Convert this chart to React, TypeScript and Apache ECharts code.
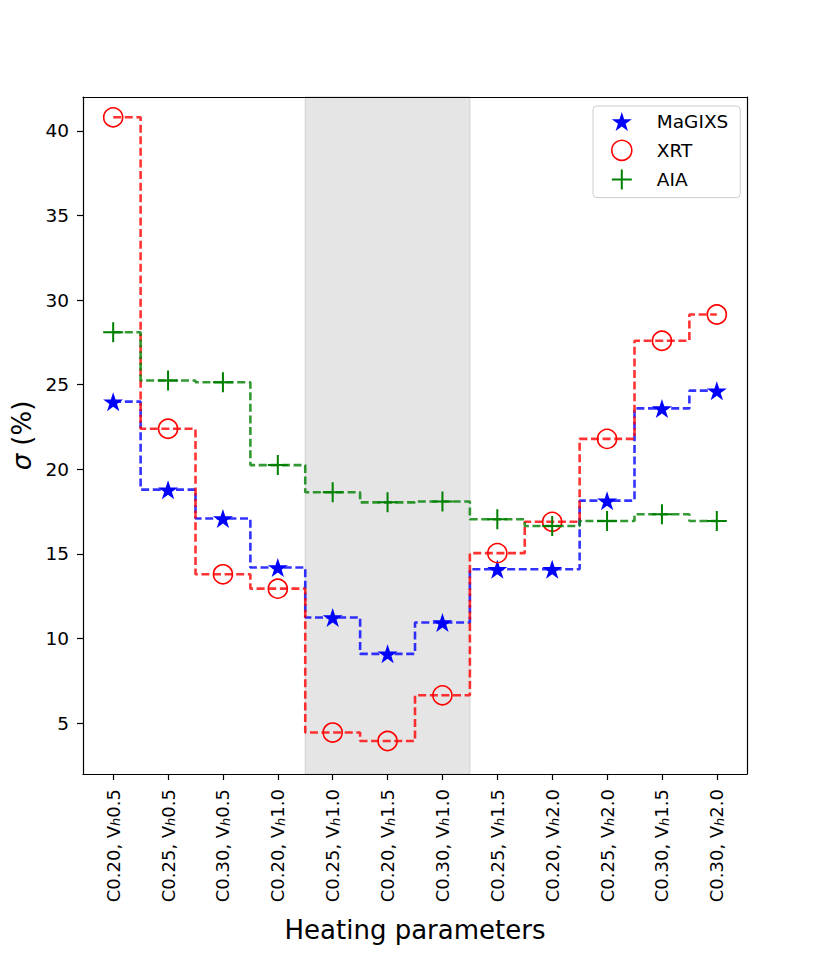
import React, { useEffect, useRef } from "react";
import * as echarts from "echarts";

// ---- data ----
const cParams = ["0.20", "0.25", "0.30", "0.20", "0.25", "0.20", "0.30", "0.25", "0.20", "0.25", "0.30", "0.30"];
const vParams = ["0.5", "0.5", "0.5", "1.0", "1.0", "1.5", "1.0", "1.5", "2.0", "2.0", "1.5", "2.0"];
const magixs = [24.0, 18.8, 17.1, 14.2, 11.25, 9.1, 10.95, 14.1, 14.1, 18.15, 23.6, 24.65];
const xrt = [40.8, 22.4, 13.8, 12.95, 4.45, 3.95, 6.65, 15.05, 16.9, 21.8, 27.6, 29.15];
const aia = [28.1, 25.25, 25.15, 20.25, 18.65, 18.05, 18.1, 17.05, 16.65, 16.95, 17.35, 16.95];
const yTicks = [5, 10, 15, 20, 25, 30, 35, 40];
const shadedRange = [3.5, 6.5];
const seriesNames = ["MaGIXS", "XRT", "AIA"];

const FONT = "DejaVu Sans";
const starPath =
  "path://M0,-100L22.45,-30.9L95.1,-30.9L36.33,11.8L58.8,80.9L0,38.2L-58.8,80.9L-36.33,11.8L-95.1,-30.9L-22.45,-30.9Z";
const plusPath = "path://M-5,-50H5V-5H50V5H5V50H-5V5H-50V-5H-5Z";

const xTicks = cParams.map((_, i) => i);
const toPairs = (arr: number[]) => arr.map((v, i) => [i, v]);

export default function App() {
  const ref = useRef<HTMLDivElement>(null);

  useEffect(() => {
    if (!ref.current) return;
    const chart = echarts.init(ref.current, null, { renderer: "svg" });
    const axisLineStyle = { color: "#000", width: 1.2 };
    const lineDash = [8, 3.6];
    const lineWidth = 2.6;

    const option: any = {
      animation: false,
      backgroundColor: "#fff",
      grid: { left: 83, top: 97, width: 664, height: 677, show: false },
      legend: {
        orient: "vertical",
        left: 593,
        top: 106,
        itemWidth: 20,
        itemHeight: 20,
        itemGap: 8.5,
        padding: [6, 12, 8, 18],
        borderColor: "#cccccc",
        borderWidth: 1,
        borderRadius: 4,
        backgroundColor: "rgba(255,255,255,0.8)",
        selectedMode: false,
        textStyle: { fontSize: 18.5, fontFamily: FONT, color: "#000", padding: [0, 0, 0, 20] },
        data: [
          { name: seriesNames[0], icon: starPath, itemStyle: { color: "#0000ff", borderWidth: 0 } },
          {
            name: seriesNames[1],
            icon: "circle",
            itemStyle: { color: "rgba(255,0,0,0)", borderColor: "#ff0000", borderWidth: 1.6 },
          },
          { name: seriesNames[2], icon: plusPath, itemStyle: { color: "#008000", borderWidth: 0 } },
        ],
      },
      xAxis: [
        {
          type: "value",
          min: -0.55,
          max: 11.55,
          z: 10,
          axisLine: { show: true, onZero: false, lineStyle: axisLineStyle },
          axisTick: { show: true, length: 6, customValues: xTicks, lineStyle: axisLineStyle },
          axisLabel: {
            customValues: xTicks,
            rotate: 90,
            margin: 15,
            fontSize: 18,
            fontFamily: FONT,
            color: "#000",
            lineHeight: 18,
            formatter: (v: number) => {
              const i = Math.round(v);
              return `C${cParams[i]}, V{sub|h}${vParams[i]}`;
            },
            rich: {
              sub: {
                fontSize: 13,
                fontStyle: "italic",
                fontFamily: FONT,
                color: "#000",
                verticalAlign: "bottom",
                lineHeight: 8,
              },
            },
          },
          splitLine: { show: false },
          name: "Heating parameters",
          nameLocation: "middle",
          nameGap: 143,
          nameTextStyle: { fontSize: 26, fontFamily: FONT, color: "#000" },
        },
        {
          type: "value",
          position: "top",
          min: -0.55,
          max: 11.55,
          z: 10,
          axisLine: { show: true, onZero: false, lineStyle: axisLineStyle },
          axisTick: { show: false },
          axisLabel: { show: false },
          splitLine: { show: false },
        },
      ],
      yAxis: [
        {
          type: "value",
          min: 2,
          max: 42,
          z: 10,
          axisLine: { show: true, onZero: false, lineStyle: axisLineStyle },
          axisTick: { show: true, length: 6, customValues: yTicks, lineStyle: axisLineStyle },
          axisLabel: { customValues: yTicks, fontSize: 18.5, fontFamily: FONT, color: "#000", margin: 14 },
          splitLine: { show: false },
          name: "{i|σ} (%)",
          nameLocation: "middle",
          nameGap: 47,
          nameRotate: 90,
          nameTextStyle: {
            fontSize: 26,
            fontFamily: FONT,
            color: "#000",
            rich: { i: { fontSize: 26, fontFamily: FONT, fontStyle: "italic", color: "#000" } },
          },
        },
        {
          type: "value",
          position: "right",
          min: 2,
          max: 42,
          z: 10,
          axisLine: { show: true, onZero: false, lineStyle: axisLineStyle },
          axisTick: { show: false },
          axisLabel: { show: false },
          splitLine: { show: false },
        },
      ],
      series: [
        {
          name: "shade",
          type: "line",
          data: [],
          z: 1,
          silent: true,
          markArea: {
            silent: true,
            itemStyle: { color: "#e5e5e5", borderColor: "#d0d0d0", borderWidth: 1 },
            data: [[{ xAxis: shadedRange[0] }, { xAxis: shadedRange[1] }]],
          },
        },
        {
          name: seriesNames[0],
          type: "line",
          step: "middle",
          data: toPairs(magixs),
          z: 3,
          symbol: starPath,
          symbolSize: 20,
          symbolKeepAspect: true,
          lineStyle: { color: "rgba(0,0,255,0.8)", width: lineWidth, type: lineDash },
          itemStyle: { color: "#0000ff", borderWidth: 0 },
          emphasis: { disabled: true },
        },
        {
          name: seriesNames[1],
          type: "line",
          step: "middle",
          data: toPairs(xrt),
          z: 4,
          symbol: "circle",
          symbolSize: 19,
          lineStyle: { color: "rgba(255,0,0,0.8)", width: lineWidth, type: lineDash },
          itemStyle: { color: "rgba(255,0,0,0)", borderColor: "#ff0000", borderWidth: 1.6 },
          emphasis: { disabled: true },
        },
        {
          name: seriesNames[2],
          type: "line",
          step: "middle",
          data: toPairs(aia),
          z: 5,
          symbol: plusPath,
          symbolSize: 20,
          symbolKeepAspect: true,
          lineStyle: { color: "rgba(0,128,0,0.8)", width: lineWidth, type: lineDash },
          itemStyle: { color: "#008000", borderWidth: 0 },
          emphasis: { disabled: true },
        },
      ],
    };
    chart.setOption(option);
    return () => chart.dispose();
  }, []);

  return (
    <div
      ref={ref}
      style={{ position: "fixed", left: 0, top: 0, width: 830, height: 969, background: "#fff" }}
    />
  );
}
